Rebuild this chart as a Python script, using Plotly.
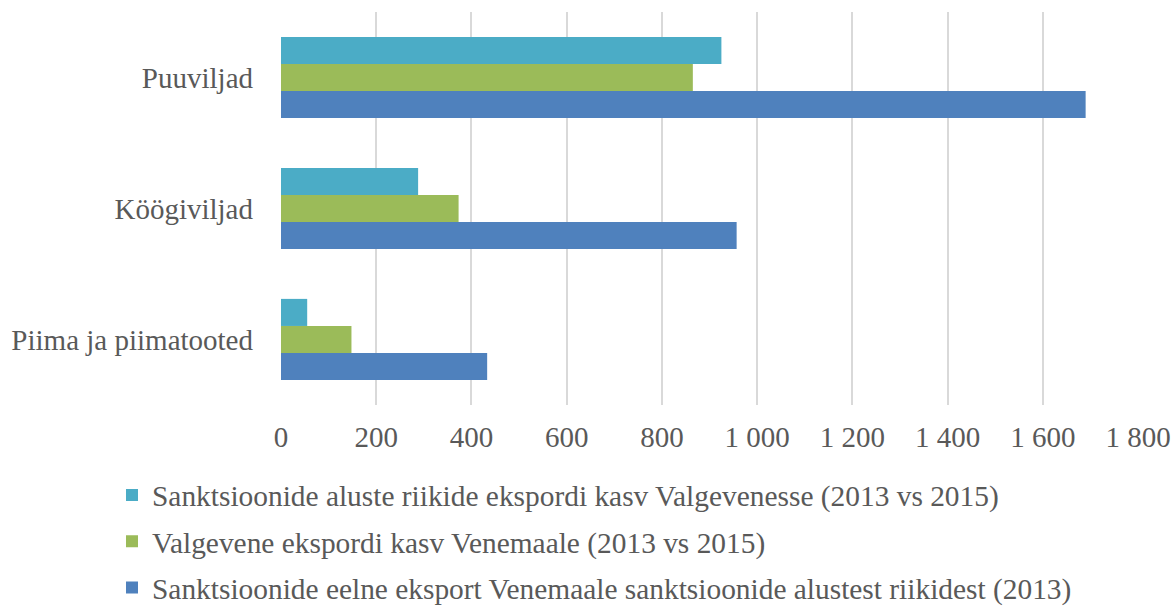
import plotly.graph_objects as go

categories = ["Piima ja piimatooted", "Köögiviljad", "Puuviljad"]
series_names = [
    "Sanktsioonide eelne eksport Venemaale sanktsioonide alustest riikidest (2013)",
    "Valgevene ekspordi kasv Venemaale (2013 vs 2015)",
    "Sanktsioonide aluste riikide ekspordi kasv Valgevenesse (2013 vs 2015)",
]
pre_sanctions = [433, 957, 1690]
belarus_to_russia = [148, 373, 865]
to_belarus = [55, 288, 925]
colors = ["#4f81bd", "#9bbb59", "#4bacc6"]
tick_vals = [0, 200, 400, 600, 800, 1000, 1200, 1400, 1600, 1800]
tick_text = ["0", "200", "400", "600", "800", "1 000", "1 200", "1 400", "1 600", "1 800"]

fig = go.Figure()
for i, (name, vals) in enumerate(zip(series_names, [pre_sanctions, belarus_to_russia, to_belarus])):
    fig.add_trace(go.Bar(
        y=categories, x=vals, name=name, orientation="h",
        marker=dict(color=colors[i], line=dict(width=0)),
        legendgroup=f"g{i}", legendrank=3 - i,
    ))

font = dict(family="Liberation Serif, Times New Roman, serif", size=29, color="#595959")
legend_font = dict(family="Liberation Serif, Times New Roman, serif", size=29.4, color="#595959")
fig.update_layout(
    width=1174, height=606,
    margin=dict(l=281, r=36, t=12, b=201, autoexpand=False),
    paper_bgcolor="white", plot_bgcolor="white",
    barmode="group", bargap=0.38, bargroupgap=0,
    font=font,
    showlegend=True,
    legend=dict(
        xref="container", yref="container", x=0.0954, y=0.2255,
        xanchor="left", yanchor="top",
        traceorder="grouped", tracegroupgap=5,
        font=legend_font, itemwidth=30,
    ),
    xaxis=dict(
        range=[0, 1800], tickvals=tick_vals, ticktext=tick_text,
        showgrid=True, gridcolor="#d9d9d9", gridwidth=1.5,
        zeroline=False, showline=False, ticks="", ticklabelstandoff=12,
        tickfont=font, fixedrange=True, automargin=False,
    ),
    yaxis=dict(
        showgrid=False, zeroline=False, showline=False, ticks="",
        ticklabelstandoff=27, tickfont=font, range=[-0.5, 2.5], automargin=False,
    ),
)
fig.write_html("out.html", config={"displayModeBar": False},
               post_script="document.body.style.margin='0';")
